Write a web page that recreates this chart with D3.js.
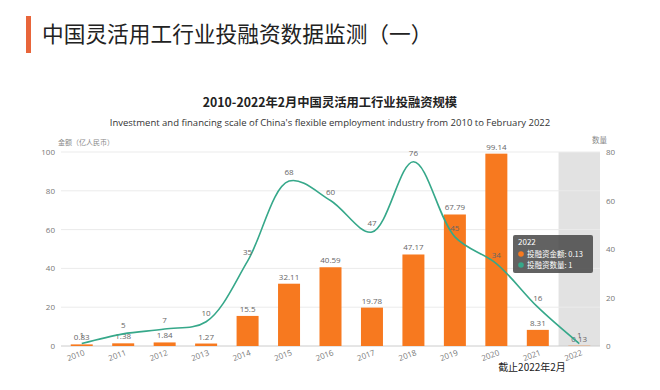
<!DOCTYPE html>
<html>
<head>
<meta charset="utf-8">
<script src="https://cdn.jsdelivr.net/npm/d3@7"></script>
<style>
  body { margin: 0; background: #fff; }
  svg { font-family: "Noto Sans CJK SC", "Noto Sans", sans-serif; }
</style>
</head>
<body>
<svg id="chart"></svg>
<script>
// data
const years = ["2010", "2011", "2012", "2013", "2014", "2015", "2016", "2017", "2018", "2019", "2020", "2021", "2022"];
const amounts = [0.83, 1.38, 1.84, 1.27, 15.5, 32.11, 40.59, 19.78, 47.17, 67.79, 99.14, 8.31, 0.13];
const counts = [1, 5, 7, 10, 35, 68, 60, 47, 76, 45, 34, 16, 1];
const leftTicks = [0, 20, 40, 60, 80, 100];
const rightTicks = [0, 20, 40, 60, 80];

const width = 660, height = 390;
const margin = {top: 152, bottom: 44, left: 61, right: 60};

const svg = d3.select("#chart")
  .attr("width", width)
  .attr("height", height);

// page heading
svg.append("rect")
  .attr("x", 26).attr("y", 16).attr("width", 5).attr("height", 37)
  .attr("fill", "#e8653a");
svg.append("text")
  .attr("x", 42).attr("y", 42)
  .attr("font-size", 21.7)
  .attr("fill", "#222")
  .text("中国灵活用工行业投融资数据监测（一）");

// chart titles
svg.append("text")
  .attr("x", 330).attr("y", 107)
  .attr("text-anchor", "middle")
  .attr("font-size", 12.3)
  .attr("font-weight", "bold")
  .attr("fill", "#222")
  .text("2010-2022年2月中国灵活用工行业投融资规模");
svg.append("text")
  .attr("x", 330).attr("y", 126)
  .attr("text-anchor", "middle")
  .attr("font-family", "'Open Sans', sans-serif")
  .attr("font-size", 9.5)
  .attr("fill", "#333")
  .text("Investment and financing scale of China's flexible employment industry from 2010 to February 2022");

// scales
const x = d3.scaleBand()
  .domain(years)
  .range([margin.left, width - margin.right])
  .paddingInner(0);

const yLeft = d3.scaleLinear()
  .domain([0, 100])
  .range([height - margin.bottom, margin.top]);

const yRight = d3.scaleLinear()
  .domain([0, 80])
  .range([height - margin.bottom, margin.top]);

// highlighted 2022 band
svg.append("rect")
  .attr("x", x("2022"))
  .attr("y", margin.top)
  .attr("width", x.bandwidth())
  .attr("height", height - margin.bottom - margin.top)
  .attr("fill", "#e2e2e2");

// gridlines
svg.append("g")
  .selectAll("line")
  .data(leftTicks)
  .join("line")
  .attr("x1", margin.left)
  .attr("x2", width - margin.right)
  .attr("y1", d => yLeft(d))
  .attr("y2", d => yLeft(d))
  .attr("stroke", d => d === 0 ? "#ccc" : "#ebebeb")
  .attr("stroke-width", 1);

// left axis labels
const leftAxis = svg.append("g")
  .attr("transform", `translate(${margin.left - 6},0)`)
  .call(d3.axisLeft(yLeft).tickValues(leftTicks).tickSize(0).tickPadding(0));
leftAxis.select(".domain").remove();
leftAxis.selectAll("text")
  .attr("fill", "#777")
  .attr("font-family", "'Open Sans', sans-serif")
  .attr("font-size", 8);

// right axis labels
const rightAxis = svg.append("g")
  .attr("transform", `translate(${width - margin.right + 6},0)`)
  .call(d3.axisRight(yRight).tickValues(rightTicks).tickSize(0).tickPadding(0));
rightAxis.select(".domain").remove();
rightAxis.selectAll("text")
  .attr("fill", "#777")
  .attr("font-family", "'Open Sans', sans-serif")
  .attr("font-size", 8);

// axis names
svg.append("text")
  .attr("x", 58).attr("y", 145)
  .attr("font-size", 7)
  .attr("fill", "#888")
  .text("金额（亿人民币）");
svg.append("text")
  .attr("x", 592).attr("y", 143)
  .attr("font-size", 7.5)
  .attr("fill", "#888")
  .text("数量");

// x labels, rotated
svg.append("g")
  .selectAll("text")
  .data(years)
  .join("text")
  .attr("transform", d => `translate(${x(d) + x.bandwidth() / 2 - 5},${height - margin.bottom + 12}) rotate(-20)`)
  .attr("text-anchor", "middle")
  .attr("font-family", "'Open Sans', sans-serif")
  .attr("font-size", 8)
  .attr("fill", "#777")
  .text(d => d);

// bars
const barW = 22;
svg.append("g")
  .selectAll("rect")
  .data(years)
  .join("rect")
  .attr("x", d => x(d) + (x.bandwidth() - barW) / 2)
  .attr("y", (d, i) => yLeft(amounts[i]))
  .attr("width", barW)
  .attr("height", (d, i) => yLeft(0) - yLeft(amounts[i]))
  .attr("fill", "#f7791f");

// bar labels
svg.append("g")
  .selectAll("text")
  .data(years)
  .join("text")
  .attr("x", d => x(d) + x.bandwidth() / 2)
  .attr("y", (d, i) => yLeft(amounts[i]) - 4)
  .attr("text-anchor", "middle")
  .attr("font-family", "'Open Sans', sans-serif")
  .attr("font-size", 8)
  .attr("fill", "#666")
  .text((d, i) => amounts[i]);

// count line
const line = d3.line()
  .x((d, i) => x(years[i]) + x.bandwidth() / 2)
  .y(d => yRight(d))
  .curve(d3.curveCatmullRom.alpha(0.5));

svg.append("path")
  .datum(counts)
  .attr("d", line)
  .attr("fill", "none")
  .attr("stroke", "#36a88a")
  .attr("stroke-width", 1.6);

// line labels
svg.append("g")
  .selectAll("text")
  .data(counts)
  .join("text")
  .attr("x", (d, i) => x(years[i]) + x.bandwidth() / 2)
  .attr("y", d => yRight(d) - 6)
  .attr("text-anchor", "middle")
  .attr("font-family", "'Open Sans', sans-serif")
  .attr("font-size", 8)
  .attr("fill", "#666")
  .text(d => d);

// tooltip for 2022
const tip = svg.append("g").attr("transform", "translate(513,235)");
tip.append("rect")
  .attr("width", 80).attr("height", 38).attr("rx", 2)
  .attr("fill", "rgba(70,70,70,0.85)");
tip.append("text")
  .attr("x", 5).attr("y", 10)
  .attr("font-size", 8).attr("fill", "#fff")
  .text("2022");
const tipRows = [
  {color: "#f7791f", label: "投融资金额: " + amounts[12]},
  {color: "#36a88a", label: "投融资数量: " + counts[12]}
];
tipRows.forEach((r, i) => {
  tip.append("circle")
    .attr("cx", 8).attr("cy", 19 + i * 11).attr("r", 2.8)
    .attr("fill", r.color);
  tip.append("text")
    .attr("x", 14).attr("y", 22 + i * 11)
    .attr("font-size", 7.5).attr("fill", "#fff")
    .text(r.label);
});

// footnote
svg.append("text")
  .attr("x", 532).attr("y", 371)
  .attr("text-anchor", "middle")
  .attr("font-size", 10)
  .attr("fill", "#222")
  .text("截止2022年2月");
</script>
</body>
</html>
